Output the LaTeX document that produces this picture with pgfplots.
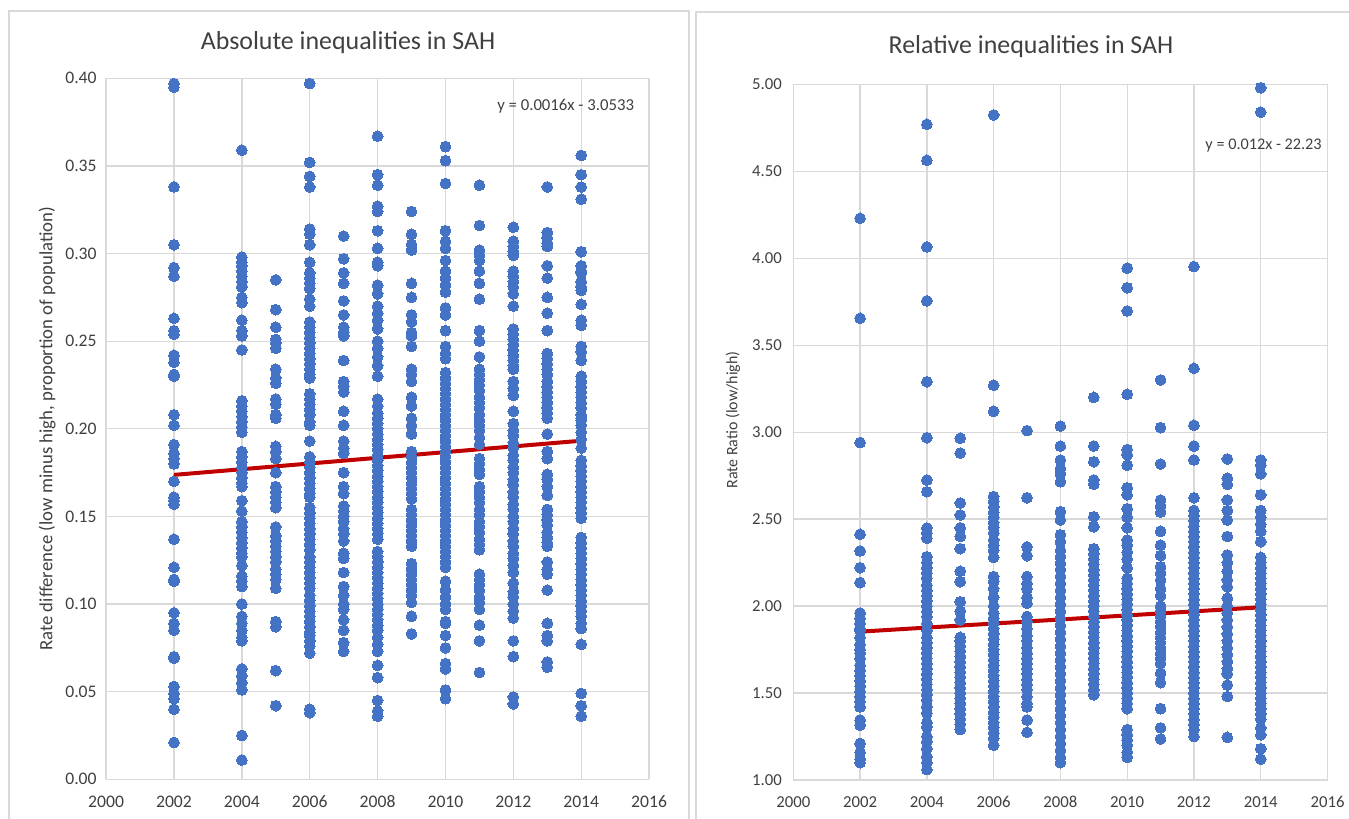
\documentclass[border=0pt]{standalone}
\usepackage{fontspec}
\setmainfont{Carlito}
\usepackage{pgfplots}
\pgfplotsset{compat=1.18}
\definecolor{dotblue}{HTML}{4472C4}
\definecolor{trendred}{HTML}{C00000}
\definecolor{gridgray}{HTML}{D9D9D9}
\definecolor{txt}{HTML}{404040}
\pgfplotsset{
  dots/.style={only marks, color=dotblue, mark=*, mark size=5.4bp, mark options={fill=dotblue, draw=dotblue, line width=0pt}},
  excel/.style={
    scale only axis,
    clip=false,
    axis line style={draw=none},
    major tick length=0pt,
    grid=major,
    grid style={gridgray, line width=1.3bp},
    xmin=2000, xmax=2016,
    xtick={2000,2002,2004,2006,2008,2010,2012,2014,2016},
    /pgf/number format/assume math mode=true,
    xticklabel style={/pgf/number format/1000 sep={}, text=txt},
    yticklabel style={/pgf/number format/fixed, /pgf/number format/fixed zerofill, /pgf/number format/precision=2, text=txt},
  }
}
\begin{document}
\begin{tikzpicture}
\path[use as bounding box] (0,0) rectangle (1349bp,-819bp);
\draw[gridgray, line width=1.3bp] (9bp,-900bp) -- (9bp,-11bp) -- (689bp,-11bp) -- (689bp,-900bp);
\draw[gridgray, line width=1.3bp] (696bp,-900bp) -- (696bp,-12bp) -- (1400bp,-12bp);
\node[font=\fontsize{26}{30}\selectfont, text=txt] at (348bp,-43bp) {Absolute inequalities in SAH};
\node[font=\fontsize{26}{30}\selectfont, text=txt] at (1031bp,-47bp) {Relative inequalities in SAH};
\node[rotate=90, font=\fontsize{16}{19}\selectfont, text=txt] at (733bp,-420bp) {Rate Ratio (low/high)};

% ---------------- Left: absolute ----------------
\begin{axis}[excel,
  at={(106.1bp,-779.3bp)}, anchor=south west,
  width=543bp, height=701bp,
  ymin=0, ymax=0.4, ytick={0,0.05,...,0.401},
  ticklabel style={font=\fontsize{17.7}{20}\selectfont},
  xticklabel style={yshift=-13bp},
  yticklabel style={xshift=-6bp},
  ylabel={\fontsize{18.8}{21}\selectfont Rate difference (low minus high, proportion of population)},
  ylabel style={at={(axis description cs:-0.1088,0.5)}, anchor=center, text=txt},
]
\addplot[dots] coordinates {(2002,.397)(2002,.395)(2002,.338)(2002,.305)(2002,.292)(2002,.287)(2002,.263)(2002,.256)(2002,.254)(2002,.242)(2002,.238)(2002,.231)(2002,.230)(2002,.208)(2002,.202)(2002,.191)(2002,.186)(2002,.183)(2002,.180)(2002,.170)(2002,.161)(2002,.159)(2002,.157)(2002,.137)(2002,.121)(2002,.114)(2002,.113)(2002,.095)(2002,.089)(2002,.085)(2002,.070)(2002,.069)(2002,.053)(2002,.049)(2002,.046)(2002,.040)(2002,.021)};
\addplot[dots] coordinates {(2004,.359)(2004,.298)(2004,.295)(2004,.293)(2004,.290)(2004,.287)(2004,.284)(2004,.281)(2004,.275)(2004,.272)(2004,.262)(2004,.256)(2004,.253)(2004,.245)(2004,.216)(2004,.213)(2004,.210)(2004,.207)(2004,.204)(2004,.201)(2004,.198)(2004,.187)(2004,.184)(2004,.181)(2004,.178)(2004,.175)(2004,.172)(2004,.169)(2004,.167)(2004,.159)(2004,.153)(2004,.147)(2004,.144)(2004,.141)(2004,.138)(2004,.135)(2004,.132)(2004,.129)(2004,.127)(2004,.122)(2004,.116)(2004,.113)(2004,.110)(2004,.100)(2004,.093)(2004,.089)(2004,.085)(2004,.081)(2004,.079)(2004,.063)(2004,.059)(2004,.055)(2004,.051)(2004,.025)(2004,.011)};
\addplot[dots] coordinates {(2005,.285)(2005,.268)(2005,.258)(2005,.251)(2005,.249)(2005,.246)(2005,.234)(2005,.229)(2005,.226)(2005,.217)(2005,.214)(2005,.208)(2005,.206)(2005,.190)(2005,.187)(2005,.183)(2005,.175)(2005,.167)(2005,.164)(2005,.161)(2005,.158)(2005,.155)(2005,.144)(2005,.139)(2005,.136)(2005,.133)(2005,.130)(2005,.127)(2005,.124)(2005,.120)(2005,.117)(2005,.114)(2005,.109)(2005,.090)(2005,.087)(2005,.062)(2005,.042)};
\addplot[dots] coordinates {(2006,.397)(2006,.352)(2006,.344)(2006,.338)(2006,.314)(2006,.311)(2006,.305)(2006,.295)(2006,.289)(2006,.286)(2006,.283)(2006,.280)(2006,.274)(2006,.270)(2006,.261)(2006,.258)(2006,.255)(2006,.252)(2006,.249)(2006,.246)(2006,.243)(2006,.240)(2006,.237)(2006,.234)(2006,.231)(2006,.229)(2006,.220)(2006,.217)(2006,.214)(2006,.211)(2006,.208)(2006,.204)(2006,.202)(2006,.193)(2006,.184)(2006,.181)(2006,.178)(2006,.175)(2006,.172)(2006,.169)(2006,.166)(2006,.163)(2006,.161)(2006,.155)(2006,.152)(2006,.149)(2006,.146)(2006,.143)(2006,.140)(2006,.137)(2006,.134)(2006,.131)(2006,.127)(2006,.124)(2006,.121)(2006,.118)(2006,.115)(2006,.112)(2006,.109)(2006,.105)(2006,.102)(2006,.099)(2006,.096)(2006,.093)(2006,.090)(2006,.087)(2006,.084)(2006,.082)(2006,.079)(2006,.076)(2006,.072)(2006,.040)(2006,.038)};
\addplot[dots] coordinates {(2007,.310)(2007,.297)(2007,.289)(2007,.283)(2007,.273)(2007,.265)(2007,.258)(2007,.255)(2007,.253)(2007,.239)(2007,.227)(2007,.224)(2007,.221)(2007,.210)(2007,.202)(2007,.193)(2007,.189)(2007,.186)(2007,.175)(2007,.167)(2007,.163)(2007,.156)(2007,.153)(2007,.150)(2007,.147)(2007,.143)(2007,.140)(2007,.136)(2007,.129)(2007,.126)(2007,.118)(2007,.110)(2007,.105)(2007,.100)(2007,.097)(2007,.091)(2007,.085)(2007,.078)(2007,.073)};
\addplot[dots] coordinates {(2008,.367)(2008,.345)(2008,.339)(2008,.327)(2008,.324)(2008,.313)(2008,.303)(2008,.295)(2008,.293)(2008,.282)(2008,.277)(2008,.270)(2008,.266)(2008,.262)(2008,.257)(2008,.250)(2008,.246)(2008,.241)(2008,.236)(2008,.230)(2008,.217)(2008,.213)(2008,.209)(2008,.206)(2008,.203)(2008,.200)(2008,.197)(2008,.194)(2008,.191)(2008,.188)(2008,.185)(2008,.182)(2008,.179)(2008,.176)(2008,.173)(2008,.170)(2008,.167)(2008,.164)(2008,.161)(2008,.158)(2008,.155)(2008,.152)(2008,.149)(2008,.146)(2008,.143)(2008,.140)(2008,.137)(2008,.130)(2008,.127)(2008,.124)(2008,.121)(2008,.118)(2008,.115)(2008,.112)(2008,.109)(2008,.106)(2008,.103)(2008,.100)(2008,.097)(2008,.094)(2008,.091)(2008,.088)(2008,.085)(2008,.081)(2008,.077)(2008,.073)(2008,.065)(2008,.058)(2008,.045)(2008,.039)(2008,.036)};
\addplot[dots] coordinates {(2009,.324)(2009,.311)(2009,.305)(2009,.302)(2009,.283)(2009,.275)(2009,.265)(2009,.261)(2009,.255)(2009,.253)(2009,.247)(2009,.234)(2009,.231)(2009,.227)(2009,.218)(2009,.213)(2009,.206)(2009,.202)(2009,.197)(2009,.187)(2009,.184)(2009,.181)(2009,.178)(2009,.175)(2009,.172)(2009,.169)(2009,.166)(2009,.163)(2009,.160)(2009,.154)(2009,.151)(2009,.148)(2009,.145)(2009,.142)(2009,.139)(2009,.136)(2009,.133)(2009,.123)(2009,.120)(2009,.117)(2009,.114)(2009,.111)(2009,.108)(2009,.105)(2009,.101)(2009,.093)(2009,.083)};
\addplot[dots] coordinates {(2010,.361)(2010,.353)(2010,.340)(2010,.313)(2010,.307)(2010,.303)(2010,.296)(2010,.290)(2010,.286)(2010,.282)(2010,.278)(2010,.269)(2010,.265)(2010,.256)(2010,.247)(2010,.243)(2010,.240)(2010,.232)(2010,.229)(2010,.226)(2010,.223)(2010,.220)(2010,.217)(2010,.214)(2010,.211)(2010,.208)(2010,.205)(2010,.202)(2010,.199)(2010,.196)(2010,.193)(2010,.190)(2010,.187)(2010,.184)(2010,.181)(2010,.178)(2010,.175)(2010,.172)(2010,.169)(2010,.166)(2010,.163)(2010,.160)(2010,.157)(2010,.154)(2010,.151)(2010,.148)(2010,.145)(2010,.142)(2010,.139)(2010,.136)(2010,.133)(2010,.130)(2010,.127)(2010,.124)(2010,.121)(2010,.113)(2010,.108)(2010,.104)(2010,.100)(2010,.097)(2010,.090)(2010,.089)(2010,.082)(2010,.075)(2010,.066)(2010,.063)(2010,.051)(2010,.046)};
\addplot[dots] coordinates {(2011,.339)(2011,.316)(2011,.302)(2011,.299)(2011,.296)(2011,.290)(2011,.283)(2011,.274)(2011,.256)(2011,.250)(2011,.241)(2011,.234)(2011,.231)(2011,.228)(2011,.225)(2011,.222)(2011,.218)(2011,.215)(2011,.212)(2011,.208)(2011,.205)(2011,.202)(2011,.199)(2011,.195)(2011,.191)(2011,.183)(2011,.180)(2011,.177)(2011,.174)(2011,.167)(2011,.164)(2011,.161)(2011,.158)(2011,.154)(2011,.151)(2011,.147)(2011,.144)(2011,.141)(2011,.137)(2011,.134)(2011,.131)(2011,.117)(2011,.114)(2011,.111)(2011,.108)(2011,.104)(2011,.101)(2011,.097)(2011,.088)(2011,.079)(2011,.061)};
\addplot[dots] coordinates {(2012,.315)(2012,.307)(2012,.304)(2012,.301)(2012,.299)(2012,.290)(2012,.287)(2012,.284)(2012,.281)(2012,.277)(2012,.270)(2012,.257)(2012,.254)(2012,.251)(2012,.248)(2012,.245)(2012,.242)(2012,.239)(2012,.236)(2012,.234)(2012,.227)(2012,.223)(2012,.219)(2012,.210)(2012,.203)(2012,.199)(2012,.196)(2012,.192)(2012,.189)(2012,.185)(2012,.182)(2012,.178)(2012,.175)(2012,.171)(2012,.168)(2012,.164)(2012,.161)(2012,.157)(2012,.154)(2012,.150)(2012,.147)(2012,.143)(2012,.140)(2012,.136)(2012,.133)(2012,.129)(2012,.126)(2012,.122)(2012,.118)(2012,.112)(2012,.107)(2012,.104)(2012,.100)(2012,.096)(2012,.092)(2012,.079)(2012,.070)(2012,.047)(2012,.043)};
\addplot[dots] coordinates {(2013,.338)(2013,.312)(2013,.309)(2013,.306)(2013,.304)(2013,.293)(2013,.286)(2013,.275)(2013,.266)(2013,.256)(2013,.243)(2013,.240)(2013,.237)(2013,.234)(2013,.231)(2013,.227)(2013,.224)(2013,.221)(2013,.218)(2013,.215)(2013,.212)(2013,.209)(2013,.206)(2013,.197)(2013,.187)(2013,.183)(2013,.174)(2013,.171)(2013,.167)(2013,.162)(2013,.154)(2013,.151)(2013,.148)(2013,.145)(2013,.141)(2013,.138)(2013,.135)(2013,.133)(2013,.124)(2013,.120)(2013,.117)(2013,.108)(2013,.089)(2013,.082)(2013,.079)(2013,.067)(2013,.064)};
\addplot[dots] coordinates {(2014,.356)(2014,.345)(2014,.338)(2014,.331)(2014,.301)(2014,.293)(2014,.290)(2014,.289)(2014,.284)(2014,.281)(2014,.279)(2014,.271)(2014,.262)(2014,.259)(2014,.247)(2014,.244)(2014,.239)(2014,.230)(2014,.227)(2014,.224)(2014,.221)(2014,.218)(2014,.215)(2014,.212)(2014,.208)(2014,.205)(2014,.202)(2014,.206)(2014,.198)(2014,.194)(2014,.189)(2014,.182)(2014,.179)(2014,.176)(2014,.173)(2014,.170)(2014,.167)(2014,.164)(2014,.161)(2014,.158)(2014,.155)(2014,.152)(2014,.149)(2014,.138)(2014,.135)(2014,.132)(2014,.129)(2014,.126)(2014,.123)(2014,.120)(2014,.117)(2014,.114)(2014,.111)(2014,.108)(2014,.105)(2014,.102)(2014,.099)(2014,.096)(2014,.093)(2014,.089)(2014,.086)(2014,.077)(2014,.049)(2014,.042)(2014,.036)};
\addplot[trendred, line width=4bp, no marks, sharp plot] coordinates {(2002,0.1737) (2014,0.1932)};
\node[anchor=west, font=\fontsize{16.8}{20}\selectfont, text=txt] at (rel axis cs:0.714,0.960) {y = 0.0016x - 3.0533};
\end{axis}

% ---------------- Right: relative ----------------
\begin{axis}[excel,
  at={(793.3bp,-780bp)}, anchor=south west,
  width=534.2bp, height=695.7bp,
  ymin=1, ymax=5, ytick={1,1.5,...,5.01},
  ticklabel style={font=\fontsize{16.8}{20}\selectfont},
  xticklabel style={yshift=-13bp},
  yticklabel style={xshift=-8bp},
]
\addplot[dots] coordinates {(2002,4.23)(2002,3.655)(2002,2.94)(2002,2.413)(2002,2.317)(2002,2.221)(2002,2.135)(2002,1.96)(2002,1.93)(2002,1.90)(2002,1.87)(2002,1.86)(2002,1.82)(2002,1.78)(2002,1.75)(2002,1.73)(2002,1.70)(2002,1.66)(2002,1.63)(2002,1.60)(2002,1.57)(2002,1.54)(2002,1.51)(2002,1.48)(2002,1.45)(2002,1.42)(2002,1.345)(2002,1.316)(2002,1.21)(2002,1.16)(2002,1.12)(2002,1.10)};
\addplot[dots] coordinates {(2004,4.77)(2004,4.563)(2004,4.065)(2004,3.755)(2004,3.29)(2004,2.968)(2004,2.725)(2004,2.658)(2004,2.449)(2004,2.42)(2004,2.39)(2004,2.284)(2004,2.25)(2004,2.22)(2004,2.19)(2004,2.16)(2004,2.12)(2004,2.09)(2004,2.06)(2004,2.03)(2004,2.00)(2004,1.968)(2004,1.94)(2004,1.90)(2004,1.86)(2004,1.82)(2004,1.79)(2004,1.76)(2004,1.73)(2004,1.70)(2004,1.67)(2004,1.64)(2004,1.61)(2004,1.58)(2004,1.55)(2004,1.52)(2004,1.49)(2004,1.46)(2004,1.42)(2004,1.385)(2004,1.33)(2004,1.305)(2004,1.25)(2004,1.22)(2004,1.18)(2004,1.134)(2004,1.10)(2004,1.06)};
\addplot[dots] coordinates {(2005,2.965)(2005,2.88)(2005,2.593)(2005,2.524)(2005,2.45)(2005,2.40)(2005,2.33)(2005,2.20)(2005,2.14)(2005,2.025)(2005,1.97)(2005,1.92)(2005,1.82)(2005,1.80)(2005,1.77)(2005,1.74)(2005,1.71)(2005,1.68)(2005,1.65)(2005,1.62)(2005,1.59)(2005,1.56)(2005,1.53)(2005,1.50)(2005,1.47)(2005,1.44)(2005,1.41)(2005,1.38)(2005,1.35)(2005,1.32)(2005,1.29)};
\addplot[dots] coordinates {(2006,4.824)(2006,3.27)(2006,3.12)(2006,2.63)(2006,2.60)(2006,2.57)(2006,2.54)(2006,2.51)(2006,2.48)(2006,2.45)(2006,2.42)(2006,2.38)(2006,2.35)(2006,2.32)(2006,2.28)(2006,2.17)(2006,2.14)(2006,2.10)(2006,2.05)(2006,2.00)(2006,1.96)(2006,1.93)(2006,1.90)(2006,1.87)(2006,1.84)(2006,1.81)(2006,1.78)(2006,1.75)(2006,1.72)(2006,1.69)(2006,1.66)(2006,1.63)(2006,1.60)(2006,1.57)(2006,1.54)(2006,1.51)(2006,1.48)(2006,1.45)(2006,1.42)(2006,1.39)(2006,1.36)(2006,1.33)(2006,1.30)(2006,1.27)(2006,1.24)(2006,1.20)};
\addplot[dots] coordinates {(2007,3.009)(2007,2.623)(2007,2.34)(2007,2.29)(2007,2.17)(2007,2.13)(2007,2.10)(2007,2.05)(2007,2.016)(2007,1.94)(2007,1.91)(2007,1.87)(2007,1.83)(2007,1.80)(2007,1.76)(2007,1.73)(2007,1.70)(2007,1.67)(2007,1.64)(2007,1.61)(2007,1.58)(2007,1.55)(2007,1.52)(2007,1.48)(2007,1.44)(2007,1.42)(2007,1.345)(2007,1.274)};
\addplot[dots] coordinates {(2008,3.035)(2008,2.92)(2008,2.84)(2008,2.79)(2008,2.76)(2008,2.715)(2008,2.543)(2008,2.495)(2008,2.41)(2008,2.37)(2008,2.32)(2008,2.284)(2008,2.246)(2008,2.21)(2008,2.17)(2008,2.13)(2008,2.09)(2008,2.05)(2008,2.01)(2008,1.97)(2008,1.93)(2008,1.89)(2008,1.85)(2008,1.81)(2008,1.77)(2008,1.73)(2008,1.69)(2008,1.65)(2008,1.61)(2008,1.57)(2008,1.53)(2008,1.49)(2008,1.45)(2008,1.41)(2008,1.37)(2008,1.33)(2008,1.29)(2008,1.25)(2008,1.21)(2008,1.17)(2008,1.13)(2008,1.10)};
\addplot[dots] coordinates {(2009,3.20)(2009,2.92)(2009,2.83)(2009,2.725)(2009,2.70)(2009,2.514)(2009,2.456)(2009,2.33)(2009,2.30)(2009,2.27)(2009,2.24)(2009,2.21)(2009,2.18)(2009,2.15)(2009,2.12)(2009,2.09)(2009,2.06)(2009,2.03)(2009,2.00)(2009,1.97)(2009,1.94)(2009,1.91)(2009,1.88)(2009,1.85)(2009,1.82)(2009,1.79)(2009,1.76)(2009,1.73)(2009,1.70)(2009,1.67)(2009,1.64)(2009,1.61)(2009,1.58)(2009,1.55)(2009,1.52)(2009,1.49)};
\addplot[dots] coordinates {(2010,3.943)(2010,3.83)(2010,3.697)(2010,3.218)(2010,2.90)(2010,2.87)(2010,2.81)(2010,2.68)(2010,2.64)(2010,2.56)(2010,2.51)(2010,2.45)(2010,2.38)(2010,2.35)(2010,2.31)(2010,2.27)(2010,2.22)(2010,2.16)(2010,2.13)(2010,2.10)(2010,2.07)(2010,2.04)(2010,2.01)(2010,1.98)(2010,1.95)(2010,1.92)(2010,1.89)(2010,1.86)(2010,1.83)(2010,1.80)(2010,1.77)(2010,1.74)(2010,1.71)(2010,1.68)(2010,1.65)(2010,1.62)(2010,1.59)(2010,1.56)(2010,1.53)(2010,1.50)(2010,1.47)(2010,1.44)(2010,1.41)(2010,1.29)(2010,1.26)(2010,1.23)(2010,1.20)(2010,1.16)(2010,1.13)};
\addplot[dots] coordinates {(2011,3.30)(2011,3.026)(2011,2.817)(2011,2.61)(2011,2.575)(2011,2.54)(2011,2.43)(2011,2.35)(2011,2.29)(2011,2.226)(2011,2.19)(2011,2.15)(2011,2.10)(2011,2.06)(2011,2.00)(2011,1.97)(2011,1.94)(2011,1.91)(2011,1.88)(2011,1.85)(2011,1.82)(2011,1.79)(2011,1.76)(2011,1.73)(2011,1.70)(2011,1.67)(2011,1.615)(2011,1.56)(2011,1.41)(2011,1.30)(2011,1.236)};
\addplot[dots] coordinates {(2012,3.952)(2012,3.367)(2012,3.04)(2012,2.92)(2012,2.84)(2012,2.623)(2012,2.55)(2012,2.52)(2012,2.49)(2012,2.46)(2012,2.43)(2012,2.40)(2012,2.37)(2012,2.34)(2012,2.31)(2012,2.28)(2012,2.25)(2012,2.22)(2012,2.19)(2012,2.16)(2012,2.13)(2012,2.10)(2012,2.07)(2012,2.04)(2012,2.01)(2012,1.98)(2012,1.95)(2012,1.92)(2012,1.89)(2012,1.86)(2012,1.83)(2012,1.80)(2012,1.77)(2012,1.74)(2012,1.71)(2012,1.68)(2012,1.65)(2012,1.62)(2012,1.59)(2012,1.56)(2012,1.53)(2012,1.50)(2012,1.47)(2012,1.44)(2012,1.41)(2012,1.38)(2012,1.35)(2012,1.32)(2012,1.29)(2012,1.25)};
\addplot[dots] coordinates {(2013,2.846)(2013,2.735)(2013,2.70)(2013,2.61)(2013,2.55)(2013,2.495)(2013,2.40)(2013,2.294)(2013,2.25)(2013,2.20)(2013,2.15)(2013,2.11)(2013,2.045)(2013,2.00)(2013,1.96)(2013,1.92)(2013,1.88)(2013,1.84)(2013,1.80)(2013,1.76)(2013,1.72)(2013,1.68)(2013,1.64)(2013,1.61)(2013,1.546)(2013,1.48)(2013,1.245)};
\addplot[dots] coordinates {(2014,4.98)(2014,4.84)(2014,2.84)(2014,2.81)(2014,2.76)(2014,2.64)(2014,2.55)(2014,2.51)(2014,2.47)(2014,2.43)(2014,2.37)(2014,2.28)(2014,2.25)(2014,2.22)(2014,2.19)(2014,2.16)(2014,2.13)(2014,2.10)(2014,2.07)(2014,2.04)(2014,2.01)(2014,1.98)(2014,1.95)(2014,1.92)(2014,1.89)(2014,1.86)(2014,1.83)(2014,1.80)(2014,1.77)(2014,1.74)(2014,1.71)(2014,1.68)(2014,1.65)(2014,1.62)(2014,1.59)(2014,1.56)(2014,1.53)(2014,1.50)(2014,1.47)(2014,1.44)(2014,1.41)(2014,1.38)(2014,1.35)(2014,1.30)(2014,1.26)(2014,1.18)(2014,1.12)};
\addplot[trendred, line width=4bp, no marks, sharp plot] coordinates {(2002,1.853) (2014,1.993)};
\node[anchor=west, font=\fontsize{16.3}{18}\selectfont, text=txt] at (rel axis cs:0.765,0.912) {y = 0.012x - 22.23};
\end{axis}
\end{tikzpicture}
\end{document}
